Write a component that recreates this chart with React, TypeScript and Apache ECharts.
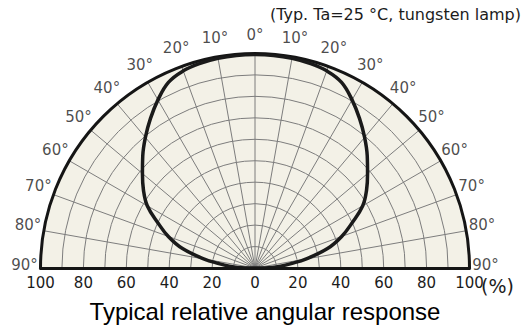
import React, { useEffect, useRef } from 'react';
import * as echarts from 'echarts';

// Angle (deg from vertical) and relative response (%)
const angles = [-90, -88, -86, -83, -80, -75, -70, -65, -60, -55, -50, -45, -40, -35, -30, -25, -20, -15, -10, -5, 0, 5, 10, 15, 20, 25, 30, 35, 40, 45, 50, 55, 60, 65, 70, 75, 80, 83, 86, 88, 90];
const response = [0, 8, 12, 17, 24, 35, 43, 50, 58, 63.5, 68.5, 74, 79.5, 85, 90.5, 95.5, 97.8, 98.8, 99.3, 99.5, 99.5, 99.5, 99.3, 98.8, 97.8, 95.5, 90.5, 85, 79.5, 74, 68.5, 63.5, 58, 50, 43, 35, 24, 17, 12, 8, 0];

// Tick labels
const angleTicks = [-90, -80, -70, -60, -50, -40, -30, -20, -10, 0, 10, 20, 30, 40, 50, 60, 70, 80, 90];
const radiusMin = -100;
const radiusMax = 100;
const radiusStep = 20;

const subtitle = '(Typ. Ta=25 °C, tungsten lamp)';
const title = 'Typical relative angular response';
const unitLabel = '(%)';

export default function App() {
  const ref = useRef<HTMLDivElement>(null);
  useEffect(() => {
    if (!ref.current) return;
    const chart = echarts.init(ref.current, undefined, { renderer: 'svg' });
    const CX = 255;
    const CY = 268;
    const R = 214.5;
    const tickFont = 'DejaVu Sans';
    const gridColor = '#7d7d7d';
    const textColor = '#1c1c1c';
    const halfAngle = { type: 'value', min: -90, max: 90, startAngle: 180, endAngle: 0, clockwise: true };
    const option: any = {
      animation: false,
      polar: [
        { center: [CX, CY], radius: R },
        { center: [CX, CY], radius: R + 16 },
        { center: [CX, CY], radius: R },
      ],
      angleAxis: [
        {
          ...halfAngle,
          polarIndex: 0,
          interval: 10,
          axisLine: { show: true, lineStyle: { color: '#151515', width: 3 } },
          axisTick: { show: false },
          axisLabel: { show: false },
          splitLine: { show: true, lineStyle: { color: gridColor, width: 1 } },
          splitArea: { show: false },
          z: 2,
        },
        { ...halfAngle, polarIndex: 1, show: false },
        {
          ...halfAngle,
          polarIndex: 2,
          interval: 10,
          axisLine: { show: false },
          axisTick: { show: false },
          axisLabel: { show: false },
          splitLine: { show: false },
          splitArea: { show: true, areaStyle: { color: ['#f3f1e7'] } },
          z: 0,
        },
      ],
      radiusAxis: [
        {
          polarIndex: 0,
          type: 'value',
          min: 0,
          max: 100,
          interval: 10,
          axisLine: { show: false },
          axisTick: { show: false },
          axisLabel: { show: false },
          splitLine: { show: true, lineStyle: { color: gridColor, width: 1 } },
          splitArea: { show: false },
          z: 2,
        },
        { polarIndex: 1, type: 'value', min: 0, max: 100, show: false },
        { polarIndex: 2, type: 'value', min: 0, max: 100, show: false, z: 0 },
      ],
      grid: { left: CX - R, width: 2 * R, top: 100, height: CY - 100 },
      xAxis: {
        type: 'value',
        min: radiusMin,
        max: radiusMax,
        interval: radiusStep,
        axisLine: { show: true, lineStyle: { color: '#151515', width: 3 } },
        axisTick: { show: false },
        splitLine: { show: false },
        axisLabel: {
          margin: 7,
          fontFamily: tickFont,
          fontSize: 15,
          color: textColor,
          formatter: (v: number) => String(Math.abs(v)),
        },
        z: 5,
      },
      yAxis: { type: 'value', min: 0, max: 1, show: false },
      series: [
        {
          type: 'line',
          coordinateSystem: 'polar',
          polarIndex: 0,
          smooth: 0.4,
          symbol: 'none',
          lineStyle: { color: '#1a1a1a', width: 3.5 },
          data: angles.map((a, i) => [response[i], a]),
          z: 4,
        },
        {
          type: 'scatter',
          coordinateSystem: 'polar',
          polarIndex: 1,
          symbolSize: 1,
          itemStyle: { color: 'rgba(0,0,0,0)' },
          label: {
            show: true,
            position: 'inside',
            offset: [0, -3],
            fontFamily: tickFont,
            fontSize: 15,
            color: textColor,
            formatter: (p: any) => Math.abs(p.value[1]) + '°',
          },
          data: angleTicks.map((a) => [100, a]),
          z: 6,
        },
      ],
      graphic: [
        {
          type: 'rect',
          z: 4.5,
          shape: { x: 0, y: CY + 1.5, width: 528, height: 329 - CY },
          style: { fill: '#fff' },
          silent: true,
        },
        {
          type: 'text',
          right: 7,
          top: 6,
          z: 100,
          style: { text: subtitle, fontFamily: tickFont, fontSize: 16, fill: textColor },
        },
        {
          type: 'text',
          x: 481,
          y: 286,
          z: 100,
          style: { text: unitLabel, fontFamily: tickFont, fontSize: 19, fill: textColor, verticalAlign: 'middle' },
        },
        {
          type: 'text',
          x: 265,
          y: 311,
          z: 100,
          style: { text: title, fontFamily: 'Liberation Sans', fontSize: 24, fill: '#000', align: 'center', verticalAlign: 'middle' },
        },
      ],
    };
    chart.setOption(option);
    return () => chart.dispose();
  }, []);
  return (
    <div
      ref={ref}
      style={{ position: 'fixed', left: 0, top: 0, width: 528, height: 329, background: '#fff' }}
    />
  );
}
